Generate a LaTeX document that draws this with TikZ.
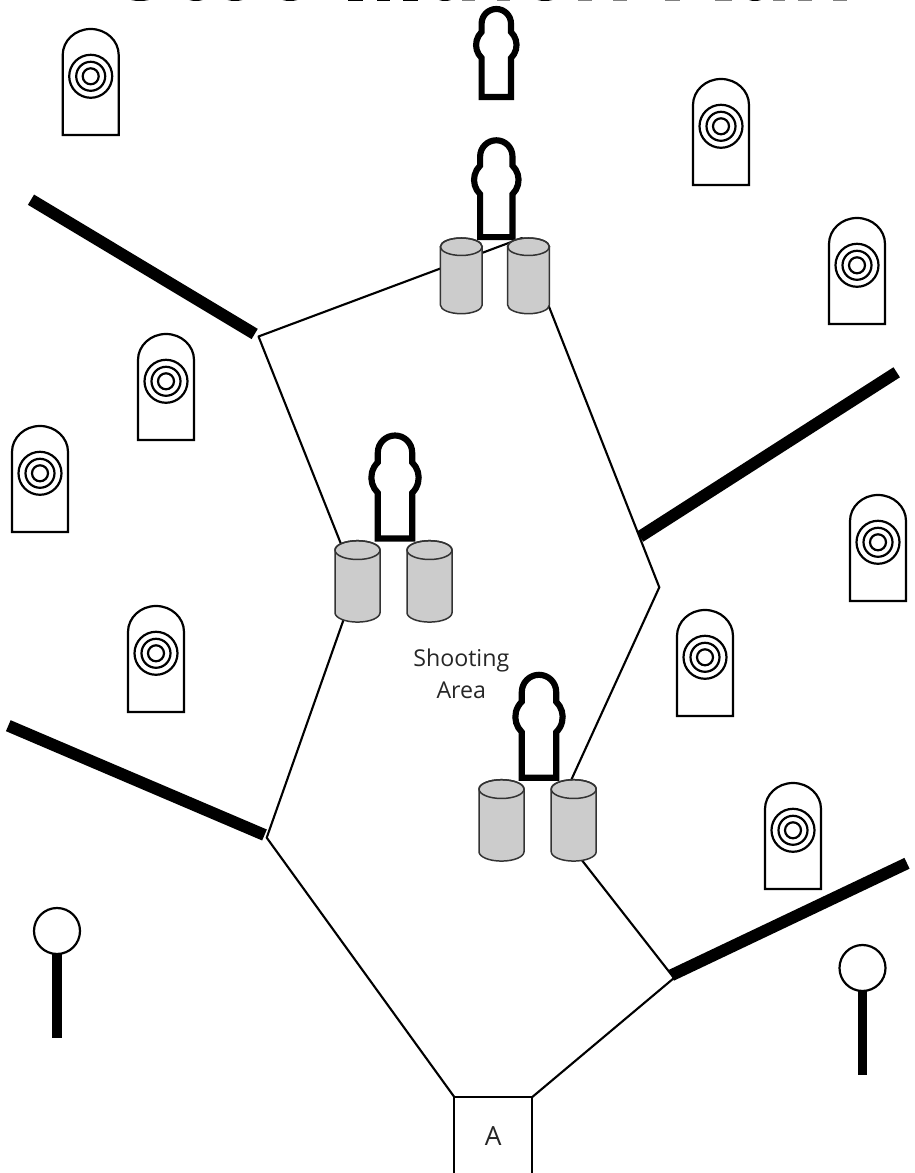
\documentclass[tikz,border=0pt]{standalone}
\usepackage{fontspec}
\setmainfont{Open Sans}
\tikzset{
  wall/.style={line width=6.8pt},
  course/.style={line width=1.2pt},
  label/.style={text=black!85,font=\fontsize{13.2}{17.9}\selectfont,align=center,inner sep=0pt},
  pics/target/.style={code={
    \draw[line width=1.25pt,fill=white] (-28,-26) arc (180:0:28 and 26) -- (28,-106) -- (-28,-106) -- cycle;
    \draw[line width=1.25pt] (0,-47.3) circle (21.5) (0,-47.3) circle (14.5) (0,-47.3) circle (8);
  }},
  pics/popper/.style={code={
    \draw[line width=3.5pt,fill=white] (-14.7,-91) -- (-14.7,-52) arc (226:134:18.1) -- (-14.7,-17.7)
      arc (180:0:14.7) -- (14.7,-26) arc (46:-46:18.1) -- (14.7,-91) -- cycle;
  }},
  pics/barrel/.style={code={
    \draw[line width=.85pt,draw=black!80,fill=black!20] (-22.5,-9.4) -- (-22.5,-72) arc (180:360:22.5 and 9.4)
      -- (22.5,-9.4) arc (0:180:22.5 and 9.4) -- cycle;
    \draw[line width=.85pt,draw=black!80] (0,-9.4) ellipse (22.5 and 9.4);
  }},
  pics/plate/.style={code={
    \draw[line width=5.67pt] (0,-23) -- (0,-107);
    \draw[line width=1.25pt,fill=white] (0,0) circle (23);
  }},
}
\begin{document}
\begin{tikzpicture}[x=.02cm,y=.02cm]
  \useasboundingbox (0,0) rectangle (915,1173);
  % what is left of the cut-off heading
  \foreach \a/\b in {348/363,377/390,403/418} \fill (\a,1172) rectangle (\b,1174);
  \foreach \a/\b in {462/475,497/510,578/592,613/627,665/680,715/732,773/785,798/812,833/847}
    \fill[black!50] (\a,1172.2) rectangle (\b,1174);
  \foreach \x/\w in {140/12,196/9,235/10,290/10,445/8,545/10,755/8}
    \fill (\x,1175) ellipse [x radius=\w,y radius=3];

  \node[draw,course,rectangle,minimum width=1.56cm,minimum height=1.56cm,outer sep=0pt,
        label,font=\fontsize{15}{18}\selectfont] (boxA) at (493.3,37) {A};
  \coordinate (nw) at (258.5,836.5);
  \coordinate (apex) at (522,935);
  \coordinate (ne) at (659.3,585.7);
  \coordinate (inE) at (552,351);
  \coordinate (se) at (674,195);
  \coordinate (sw) at (266.7,335.3);
  \coordinate (inW) at (356.5,590);
  \coordinate (endNW) at (31,973.3);
  \coordinate (cornerNW) at (254.7,839);
  \coordinate (endNE) at (896.7,800.7);
  \coordinate (cornerNE) at (640,636.3);
  \coordinate (endSW) at (8.3,447.3);
  \coordinate (cornerSW) at (264.5,338);
  \coordinate (endSE) at (907,309.7);
  \coordinate (cornerSE) at (671.3,197.7);

  \draw[course,line join=round] (boxA.north west) -- (sw) -- (inW) -- (nw) -- (apex) -- (ne) -- (inE) -- (se) -- (boxA.north east);
  \draw[wall] (endNW) -- (cornerNW);
  \draw[wall] (endNE) -- (cornerNE);
  \draw[wall] (endSW) -- (cornerSW);
  \draw[wall] (endSE) -- (cornerSE);

  \foreach \x/\y in {90.7/1144,721/1094,857/955,166/839,40/747,878/678,156/567,705/563,793/390}
    \pic at (\x,\y) {target};
  \foreach \x/\y/\s in {496.3/1167/1,496.3/1036/1.1,395/741/1.17,539/501.7/1.17}
    \pic[scale=\s] at (\x,\y) {popper};
  \foreach \x/\y/\s in {357.5/632.3/1,429.5/632.3/1,501.5/393.3/1,573.7/393.3/1,461.3/935/.93,528.5/935/.93}
    \pic[scale=\s] at (\x,\y) {barrel};
  \pic at (57,242) {plate};
  \pic at (862.5,205) {plate};

  \node[label] (area) at (461.3,499) {Shooting\\Area};
\end{tikzpicture}
\end{document}
